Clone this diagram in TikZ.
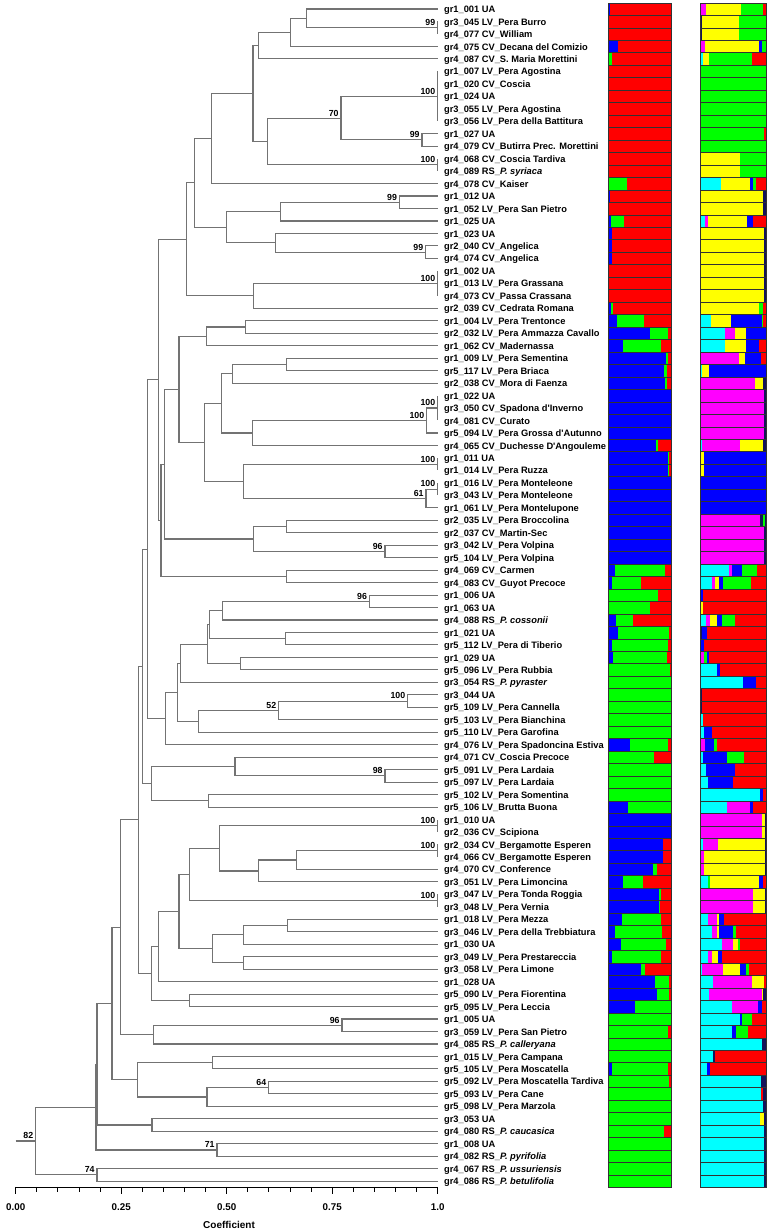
\documentclass[tikz,border=0pt]{standalone}
\usepackage{fontspec}
\setmainfont{Liberation Sans}

\definecolor{kR}{RGB}{255,0,0}
\definecolor{kG}{RGB}{0,255,0}
\definecolor{kB}{RGB}{0,0,255}
\definecolor{kY}{RGB}{255,255,0}
\definecolor{kM}{RGB}{255,0,255}
\definecolor{kC}{RGB}{0,255,255}
\definecolor{kN}{RGB}{20,20,90}
\definecolor{branchgray}{RGB}{115,115,115}

% one stacked bar: #1 left x, #2 width, #3 row, #4 list colour/end(%)
\newcommand{\strrow}[4]{%
  \xdef\segfrom{0}%
  \foreach \segcol/\segto in {#4}{%
    \fill[\segcol] ({#1+#2*\segfrom/100},{#3-0.5}) rectangle ({#1+#2*\segto/100},{#3+0.5});
    \xdef\segfrom{\segto}%
  }%
  \draw[barframe] ({#1},{#3-0.5}) rectangle ({#1+#2},{#3+0.5});
}
% both bars of one row
\newcommand{\barrow}[3]{\strrow{1.4036}{0.1493}{#1}{#2}\strrow{1.6216}{0.1571}{#1}{#3}}

\begin{document}
\begin{tikzpicture}[
        x=422pt, y=-12.47pt,
        leaf/.style={anchor=west, inner xsep=6.3pt, inner ysep=0pt, text height=0.72em, text depth=0pt, font=\fontsize{9.3}{11}\selectfont\bfseries},
        boot/.style={anchor=south east, inner sep=0pt, xshift=-2.2pt, yshift=1.8pt, font=\fontsize{8.8}{10}\selectfont\bfseries},
        axislabel/.style={inner sep=0pt, font=\fontsize{9.8}{11}\selectfont\bfseries},
        branch/.style={draw=branchgray, line width=1.1pt},
        axisline/.style={draw=black, line width=0.9pt},
        barframe/.style={draw=black!80, line width=0.4pt}
    ]
    \useasboundingbox (-0.0372,0.278) rectangle (1.7945,99.0);

    % Leaves
    \node[leaf] (l1) at (1,1) {gr1\_001 UA};
    \node[leaf] (l2) at (1,2) {gr3\_045 LV\_Pera Burro};
    \node[leaf] (l3) at (1,3) {gr4\_077 CV\_William};
    \node[leaf] (l4) at (1,4) {gr4\_075 CV\_Decana del Comizio};
    \node[leaf] (l5) at (1,5) {gr4\_087 CV\_S. Maria Morettini};
    \node[leaf] (l6) at (1,6) {gr1\_007 LV\_Pera Agostina};
    \node[leaf] (l7) at (1,7) {gr1\_020 CV\_Coscia};
    \node[leaf] (l8) at (1,8) {gr1\_024 UA};
    \node[leaf] (l9) at (1,9) {gr3\_055 LV\_Pera Agostina};
    \node[leaf] (l10) at (1,10) {gr3\_056 LV\_Pera della Battitura};
    \node[leaf] (l11) at (1,11) {gr1\_027 UA};
    \node[leaf] (l12) at (1,12) {gr4\_079 CV\_Butirra Prec. Morettini};
    \node[leaf] (l13) at (1,13) {gr4\_068 CV\_Coscia Tardiva};
    \node[leaf] (l14) at (1,14) {gr4\_089 RS\_\textit{P. syriaca}};
    \node[leaf] (l15) at (1,15) {gr4\_078 CV\_Kaiser};
    \node[leaf] (l16) at (1,16) {gr1\_012 UA};
    \node[leaf] (l17) at (1,17) {gr1\_052 LV\_Pera San Pietro};
    \node[leaf] (l18) at (1,18) {gr1\_025 UA};
    \node[leaf] (l19) at (1,19) {gr1\_023 UA};
    \node[leaf] (l20) at (1,20) {gr2\_040 CV\_Angelica};
    \node[leaf] (l21) at (1,21) {gr4\_074 CV\_Angelica};
    \node[leaf] (l22) at (1,22) {gr1\_002 UA};
    \node[leaf] (l23) at (1,23) {gr1\_013 LV\_Pera Grassana};
    \node[leaf] (l24) at (1,24) {gr4\_073 CV\_Passa Crassana};
    \node[leaf] (l25) at (1,25) {gr2\_039 CV\_Cedrata Romana};
    \node[leaf] (l26) at (1,26) {gr1\_004 LV\_Pera Trentonce};
    \node[leaf] (l27) at (1,27) {gr2\_032 LV\_Pera Ammazza Cavallo};
    \node[leaf] (l28) at (1,28) {gr1\_062 CV\_Madernassa};
    \node[leaf] (l29) at (1,29) {gr1\_009 LV\_Pera Sementina};
    \node[leaf] (l30) at (1,30) {gr5\_117 LV\_Pera Briaca};
    \node[leaf] (l31) at (1,31) {gr2\_038 CV\_Mora di Faenza};
    \node[leaf] (l32) at (1,32) {gr1\_022 UA};
    \node[leaf] (l33) at (1,33) {gr3\_050 CV\_Spadona d\textquotesingle Inverno};
    \node[leaf] (l34) at (1,34) {gr4\_081 CV\_Curato};
    \node[leaf] (l35) at (1,35) {gr5\_094 LV\_Pera Grossa d\textquotesingle Autunno};
    \node[leaf] (l36) at (1,36) {gr4\_065 CV\_Duchesse D\textquotesingle Angouleme};
    \node[leaf] (l37) at (1,37) {gr1\_011 UA};
    \node[leaf] (l38) at (1,38) {gr1\_014 LV\_Pera Ruzza};
    \node[leaf] (l39) at (1,39) {gr1\_016 LV\_Pera Monteleone};
    \node[leaf] (l40) at (1,40) {gr3\_043 LV\_Pera Monteleone};
    \node[leaf] (l41) at (1,41) {gr1\_061 LV\_Pera Montelupone};
    \node[leaf] (l42) at (1,42) {gr2\_035 LV\_Pera Broccolina};
    \node[leaf] (l43) at (1,43) {gr2\_037 CV\_Martin-Sec};
    \node[leaf] (l44) at (1,44) {gr3\_042 LV\_Pera Volpina};
    \node[leaf] (l45) at (1,45) {gr5\_104 LV\_Pera Volpina};
    \node[leaf] (l46) at (1,46) {gr4\_069 CV\_Carmen};
    \node[leaf] (l47) at (1,47) {gr4\_083 CV\_Guyot Precoce};
    \node[leaf] (l48) at (1,48) {gr1\_006 UA};
    \node[leaf] (l49) at (1,49) {gr1\_063 UA};
    \node[leaf] (l50) at (1,50) {gr4\_088 RS\_\textit{P. cossonii}};
    \node[leaf] (l51) at (1,51) {gr1\_021 UA};
    \node[leaf] (l52) at (1,52) {gr5\_112 LV\_Pera di Tiberio};
    \node[leaf] (l53) at (1,53) {gr1\_029 UA};
    \node[leaf] (l54) at (1,54) {gr5\_096 LV\_Pera Rubbia};
    \node[leaf] (l55) at (1,55) {gr3\_054 RS\_\textit{P. pyraster}};
    \node[leaf] (l56) at (1,56) {gr3\_044 UA};
    \node[leaf] (l57) at (1,57) {gr5\_109 LV\_Pera Cannella};
    \node[leaf] (l58) at (1,58) {gr5\_103 LV\_Pera Bianchina};
    \node[leaf] (l59) at (1,59) {gr5\_110 LV\_Pera Garofina};
    \node[leaf] (l60) at (1,60) {gr4\_076 LV\_Pera Spadoncina Estiva};
    \node[leaf] (l61) at (1,61) {gr4\_071 CV\_Coscia Precoce};
    \node[leaf] (l62) at (1,62) {gr5\_091 LV\_Pera Lardaia};
    \node[leaf] (l63) at (1,63) {gr5\_097 LV\_Pera Lardaia};
    \node[leaf] (l64) at (1,64) {gr5\_102 LV\_Pera Somentina};
    \node[leaf] (l65) at (1,65) {gr5\_106 LV\_Brutta Buona};
    \node[leaf] (l66) at (1,66) {gr1\_010 UA};
    \node[leaf] (l67) at (1,67) {gr2\_036 CV\_Scipiona};
    \node[leaf] (l68) at (1,68) {gr2\_034 CV\_Bergamotte Esperen};
    \node[leaf] (l69) at (1,69) {gr4\_066 CV\_Bergamotte Esperen};
    \node[leaf] (l70) at (1,70) {gr4\_070 CV\_Conference};
    \node[leaf] (l71) at (1,71) {gr3\_051 LV\_Pera Limoncina};
    \node[leaf] (l72) at (1,72) {gr3\_047 LV\_Pera Tonda Roggia};
    \node[leaf] (l73) at (1,73) {gr3\_048 LV\_Pera Vernia};
    \node[leaf] (l74) at (1,74) {gr1\_018 LV\_Pera Mezza};
    \node[leaf] (l75) at (1,75) {gr3\_046 LV\_Pera della Trebbiatura};
    \node[leaf] (l76) at (1,76) {gr1\_030 UA};
    \node[leaf] (l77) at (1,77) {gr3\_049 LV\_Pera Prestareccia};
    \node[leaf] (l78) at (1,78) {gr3\_058 LV\_Pera Limone};
    \node[leaf] (l79) at (1,79) {gr1\_028 UA};
    \node[leaf] (l80) at (1,80) {gr5\_090 LV\_Pera Fiorentina};
    \node[leaf] (l81) at (1,81) {gr5\_095 LV\_Pera Leccia};
    \node[leaf] (l82) at (1,82) {gr1\_005 UA};
    \node[leaf] (l83) at (1,83) {gr3\_059 LV\_Pera San Pietro};
    \node[leaf] (l84) at (1,84) {gr4\_085 RS\_\textit{P. calleryana}};
    \node[leaf] (l85) at (1,85) {gr1\_015 LV\_Pera Campana};
    \node[leaf] (l86) at (1,86) {gr5\_105 LV\_Pera Moscatella};
    \node[leaf] (l87) at (1,87) {gr5\_092 LV\_Pera Moscatella Tardiva};
    \node[leaf] (l88) at (1,88) {gr5\_093 LV\_Pera Cane};
    \node[leaf] (l89) at (1,89) {gr5\_098 LV\_Pera Marzola};
    \node[leaf] (l90) at (1,90) {gr3\_053 UA};
    \node[leaf] (l91) at (1,91) {gr4\_080 RS\_\textit{P. caucasica}};
    \node[leaf] (l92) at (1,92) {gr1\_008 UA};
    \node[leaf] (l93) at (1,93) {gr4\_082 RS\_\textit{P. pyrifolia}};
    \node[leaf] (l94) at (1,94) {gr4\_067 RS\_\textit{P. ussuriensis}};
    \node[leaf] (l95) at (1,95) {gr4\_086 RS\_\textit{P. betulifolia}};

    % Clusters (x = coefficient, y = mean row of the two children)
    \coordinate (c2_3) at (1,2.5);
    \coordinate (c1_3) at (0.6887,1.75);
    \coordinate (c1_4) at (0.6508,2.875);
    \coordinate (c1_5) at (0.5750,3.9375);
    \coordinate (c6_10) at (1,8);
    \coordinate (c11_12) at (0.9628,11.5);
    \coordinate (c6_12) at (0.7709,9.75);
    \coordinate (c13_14) at (1,13.5);
    \coordinate (c6_14) at (0.5971,11.625);
    \coordinate (c1_14) at (0.5623,7.78125);
    \coordinate (c1_15) at (0.4636,11.3906);
    \coordinate (c16_17) at (0.9091,16.5);
    \coordinate (c16_18) at (0.6271,17.25);
    \coordinate (c20_21) at (0.9715,20.5);
    \coordinate (c19_21) at (0.6160,19.75);
    \coordinate (c16_21) at (0.4991,18.5);
    \coordinate (c1_21) at (0.4241,14.9453);
    \coordinate (c22_24) at (1,23);
    \coordinate (c22_25) at (0.5631,24);
    \coordinate (c1_25) at (0.4043,19.4727);
    \coordinate (c26_27) at (0.5441,26.5);
    \coordinate (c26_28) at (0.4517,27.25);
    \coordinate (c29_30) at (0.6421,29.5);
    \coordinate (c29_31) at (0.5133,30.25);
    \coordinate (c32_34) at (1,33);
    \coordinate (c32_35) at (0.9739,34);
    \coordinate (c32_36) at (0.5607,35);
    \coordinate (c29_36) at (0.4881,32.625);
    \coordinate (c37_38) at (1,37.5);
    \coordinate (c39_40) at (1,39.5);
    \coordinate (c39_41) at (0.9723,40.25);
    \coordinate (c37_41) at (0.5394,38.875);
    \coordinate (c29_41) at (0.4470,35.75);
    \coordinate (c26_41) at (0.3870,31.5);
    \coordinate (c42_43) at (0.6421,42.5);
    \coordinate (c44_45) at (0.8751,44.5);
    \coordinate (c42_45) at (0.5631,43.5);
    \coordinate (c26_45) at (0.3522,37.5);
    \coordinate (c46_47) at (0.6421,46.5);
    \coordinate (c26_47) at (0.3443,42);
    \coordinate (c1_47) at (0.3388,30.7363);
    \coordinate (c48_49) at (0.8380,48.5);
    \coordinate (c48_50) at (0.4905,49.25);
    \coordinate (c51_52) at (0.6389,51.5);
    \coordinate (c48_52) at (0.4596,50.375);
    \coordinate (c53_54) at (0.5331,53.5);
    \coordinate (c48_54) at (0.4549,51.9375);
    \coordinate (c48_55) at (0.3901,53.4688);
    \coordinate (c56_57) at (0.9288,56.5);
    \coordinate (c56_58) at (0.6231,57.25);
    \coordinate (c56_59) at (0.4336,58.125);
    \coordinate (c48_59) at (0.3830,55.7969);
    \coordinate (c48_60) at (0.3554,57.8984);
    \coordinate (c1_60) at (0.3127,44.3174);
    \coordinate (c62_63) at (0.8751,62.5);
    \coordinate (c61_63) at (0.5197,61.75);
    \coordinate (c64_65) at (0.4565,64.5);
    \coordinate (c61_65) at (0.3214,63.125);
    \coordinate (c1_65) at (0.3009,53.7212);
    \coordinate (c66_67) at (1,66.5);
    \coordinate (c68_69) at (1,68.5);
    \coordinate (c68_70) at (0.6650,69.25);
    \coordinate (c68_71) at (0.5757,70.125);
    \coordinate (c66_71) at (0.4833,68.3125);
    \coordinate (c72_73) at (1,72.5);
    \coordinate (c66_73) at (0.4115,70.4063);
    \coordinate (c74_75) at (0.6437,74.5);
    \coordinate (c74_76) at (0.5394,75.25);
    \coordinate (c77_78) at (0.5394,77.5);
    \coordinate (c74_78) at (0.4668,76.375);
    \coordinate (c66_78) at (0.3870,73.3906);
    \coordinate (c66_79) at (0.3388,76.1953);
    \coordinate (c80_81) at (0.4122,80.5);
    \coordinate (c66_81) at (0.3214,78.3477);
    \coordinate (c1_81) at (0.2902,66.0344);
    \coordinate (c82_83) at (0.7732,82.5);
    \coordinate (c82_84) at (0.3269,83.25);
    \coordinate (c1_84) at (0.2479,74.6422);
    \coordinate (c85_86) at (0.4660,85.5);
    \coordinate (c87_88) at (0.5995,87.5);
    \coordinate (c87_89) at (0.4533,88.25);
    \coordinate (c85_89) at (0.2890,86.875);
    \coordinate (c1_89) at (0.2282,80.7586);
    \coordinate (c90_91) at (0.3230,90.5);
    \coordinate (c1_91) at (0.1927,85.6293);
    \coordinate (c92_93) at (0.4770,92.5);
    \coordinate (c1_93) at (0.1903,89.0647);
    \coordinate (c94_95) at (0.1927,94.5);
    \coordinate (c1_95) at (0.0473,91.7823);
    \coordinate (c0) at (0,91.7823);

    % Branches
    \draw[branch] (c2_3) |- (l2) (c2_3) |- (l3);
    \draw[branch] (c1_3) |- (l1) (c1_3) |- (c2_3);
    \draw[branch] (c1_4) |- (c1_3) (c1_4) |- (l4);
    \draw[branch] (c1_5) |- (c1_4) (c1_5) |- (l5);
    \draw[branch] (c6_10) |- (l6) (c6_10) |- (l7) (c6_10) |- (l8) (c6_10) |- (l9) (c6_10) |- (l10);
    \draw[branch] (c11_12) |- (l11) (c11_12) |- (l12);
    \draw[branch] (c6_12) |- (c6_10) (c6_12) |- (c11_12);
    \draw[branch] (c13_14) |- (l13) (c13_14) |- (l14);
    \draw[branch] (c6_14) |- (c6_12) (c6_14) |- (c13_14);
    \draw[branch] (c1_14) |- (c1_5) (c1_14) |- (c6_14);
    \draw[branch] (c1_15) |- (c1_14) (c1_15) |- (l15);
    \draw[branch] (c16_17) |- (l16) (c16_17) |- (l17);
    \draw[branch] (c16_18) |- (c16_17) (c16_18) |- (l18);
    \draw[branch] (c20_21) |- (l20) (c20_21) |- (l21);
    \draw[branch] (c19_21) |- (l19) (c19_21) |- (c20_21);
    \draw[branch] (c16_21) |- (c16_18) (c16_21) |- (c19_21);
    \draw[branch] (c1_21) |- (c1_15) (c1_21) |- (c16_21);
    \draw[branch] (c22_24) |- (l22) (c22_24) |- (l23) (c22_24) |- (l24);
    \draw[branch] (c22_25) |- (c22_24) (c22_25) |- (l25);
    \draw[branch] (c1_25) |- (c1_21) (c1_25) |- (c22_25);
    \draw[branch] (c26_27) |- (l26) (c26_27) |- (l27);
    \draw[branch] (c26_28) |- (c26_27) (c26_28) |- (l28);
    \draw[branch] (c29_30) |- (l29) (c29_30) |- (l30);
    \draw[branch] (c29_31) |- (c29_30) (c29_31) |- (l31);
    \draw[branch] (c32_34) |- (l32) (c32_34) |- (l33) (c32_34) |- (l34);
    \draw[branch] (c32_35) |- (c32_34) (c32_35) |- (l35);
    \draw[branch] (c32_36) |- (c32_35) (c32_36) |- (l36);
    \draw[branch] (c29_36) |- (c29_31) (c29_36) |- (c32_36);
    \draw[branch] (c37_38) |- (l37) (c37_38) |- (l38);
    \draw[branch] (c39_40) |- (l39) (c39_40) |- (l40);
    \draw[branch] (c39_41) |- (c39_40) (c39_41) |- (l41);
    \draw[branch] (c37_41) |- (c37_38) (c37_41) |- (c39_41);
    \draw[branch] (c29_41) |- (c29_36) (c29_41) |- (c37_41);
    \draw[branch] (c26_41) |- (c26_28) (c26_41) |- (c29_41);
    \draw[branch] (c42_43) |- (l42) (c42_43) |- (l43);
    \draw[branch] (c44_45) |- (l44) (c44_45) |- (l45);
    \draw[branch] (c42_45) |- (c42_43) (c42_45) |- (c44_45);
    \draw[branch] (c26_45) |- (c26_41) (c26_45) |- (c42_45);
    \draw[branch] (c46_47) |- (l46) (c46_47) |- (l47);
    \draw[branch] (c26_47) |- (c26_45) (c26_47) |- (c46_47);
    \draw[branch] (c1_47) |- (c1_25) (c1_47) |- (c26_47);
    \draw[branch] (c48_49) |- (l48) (c48_49) |- (l49);
    \draw[branch] (c48_50) |- (c48_49) (c48_50) |- (l50);
    \draw[branch] (c51_52) |- (l51) (c51_52) |- (l52);
    \draw[branch] (c48_52) |- (c48_50) (c48_52) |- (c51_52);
    \draw[branch] (c53_54) |- (l53) (c53_54) |- (l54);
    \draw[branch] (c48_54) |- (c48_52) (c48_54) |- (c53_54);
    \draw[branch] (c48_55) |- (c48_54) (c48_55) |- (l55);
    \draw[branch] (c56_57) |- (l56) (c56_57) |- (l57);
    \draw[branch] (c56_58) |- (c56_57) (c56_58) |- (l58);
    \draw[branch] (c56_59) |- (c56_58) (c56_59) |- (l59);
    \draw[branch] (c48_59) |- (c48_55) (c48_59) |- (c56_59);
    \draw[branch] (c48_60) |- (c48_59) (c48_60) |- (l60);
    \draw[branch] (c1_60) |- (c1_47) (c1_60) |- (c48_60);
    \draw[branch] (c62_63) |- (l62) (c62_63) |- (l63);
    \draw[branch] (c61_63) |- (l61) (c61_63) |- (c62_63);
    \draw[branch] (c64_65) |- (l64) (c64_65) |- (l65);
    \draw[branch] (c61_65) |- (c61_63) (c61_65) |- (c64_65);
    \draw[branch] (c1_65) |- (c1_60) (c1_65) |- (c61_65);
    \draw[branch] (c66_67) |- (l66) (c66_67) |- (l67);
    \draw[branch] (c68_69) |- (l68) (c68_69) |- (l69);
    \draw[branch] (c68_70) |- (c68_69) (c68_70) |- (l70);
    \draw[branch] (c68_71) |- (c68_70) (c68_71) |- (l71);
    \draw[branch] (c66_71) |- (c66_67) (c66_71) |- (c68_71);
    \draw[branch] (c72_73) |- (l72) (c72_73) |- (l73);
    \draw[branch] (c66_73) |- (c66_71) (c66_73) |- (c72_73);
    \draw[branch] (c74_75) |- (l74) (c74_75) |- (l75);
    \draw[branch] (c74_76) |- (c74_75) (c74_76) |- (l76);
    \draw[branch] (c77_78) |- (l77) (c77_78) |- (l78);
    \draw[branch] (c74_78) |- (c74_76) (c74_78) |- (c77_78);
    \draw[branch] (c66_78) |- (c66_73) (c66_78) |- (c74_78);
    \draw[branch] (c66_79) |- (c66_78) (c66_79) |- (l79);
    \draw[branch] (c80_81) |- (l80) (c80_81) |- (l81);
    \draw[branch] (c66_81) |- (c66_79) (c66_81) |- (c80_81);
    \draw[branch] (c1_81) |- (c1_65) (c1_81) |- (c66_81);
    \draw[branch] (c82_83) |- (l82) (c82_83) |- (l83);
    \draw[branch] (c82_84) |- (c82_83) (c82_84) |- (l84);
    \draw[branch] (c1_84) |- (c1_81) (c1_84) |- (c82_84);
    \draw[branch] (c85_86) |- (l85) (c85_86) |- (l86);
    \draw[branch] (c87_88) |- (l87) (c87_88) |- (l88);
    \draw[branch] (c87_89) |- (c87_88) (c87_89) |- (l89);
    \draw[branch] (c85_89) |- (c85_86) (c85_89) |- (c87_89);
    \draw[branch] (c1_89) |- (c1_84) (c1_89) |- (c85_89);
    \draw[branch] (c90_91) |- (l90) (c90_91) |- (l91);
    \draw[branch] (c1_91) |- (c1_89) (c1_91) |- (c90_91);
    \draw[branch] (c92_93) |- (l92) (c92_93) |- (l93);
    \draw[branch] (c1_93) |- (c1_91) (c1_93) |- (c92_93);
    \draw[branch] (c94_95) |- (l94) (c94_95) |- (l95);
    \draw[branch] (c1_95) |- (c1_93) (c1_95) |- (c94_95);
    \draw[branch] (c0) -- (c1_95);

    % Bootstrap values
    \node[boot] (b2_3) at (c2_3) {99};
    \node[boot] (b6_10) at (c6_10) {100};
    \node[boot] (b6_12) at (c6_12) {70};
    \node[boot] (b11_12) at (c11_12) {99};
    \node[boot] (b13_14) at (c13_14) {100};
    \node[boot] (b16_17) at (c16_17) {99};
    \node[boot] (b20_21) at (c20_21) {99};
    \node[boot] (b22_24) at (c22_24) {100};
    \node[boot] (b32_34) at (c32_34) {100};
    \node[boot] (b32_35) at (c32_35) {100};
    \node[boot] (b37_38) at (c37_38) {100};
    \node[boot] (b39_40) at (c39_40) {100};
    \node[boot] (b39_41) at (c39_41) {61};
    \node[boot] (b44_45) at (c44_45) {96};
    \node[boot] (b48_49) at (c48_49) {96};
    \node[boot] (b56_57) at (c56_57) {100};
    \node[boot] (b56_58) at (c56_58) {52};
    \node[boot] (b62_63) at (c62_63) {98};
    \node[boot] (b66_67) at (c66_67) {100};
    \node[boot] (b68_69) at (c68_69) {100};
    \node[boot] (b72_73) at (c72_73) {100};
    \node[boot] (b82_83) at (c82_83) {96};
    \node[boot] (b87_88) at (c87_88) {64};
    \node[boot] (b92_93) at (c92_93) {71};
    \node[boot] (b94_95) at (c94_95) {74};
    \node[boot] (b1_95) at (c1_95) {82};

    % Coefficient axis
    \draw[axisline] (0,95.47) -- (1,95.47);
    \foreach \k in {0,...,20}{
        \pgfmathsetmacro{\ticklen}{ifthenelse(mod(\k,5)==0,0.6,0.44)}
        \draw[axisline] ({\k/20},95.47) -- ({\k/20},{95.47+\ticklen});
    }
    \node[axislabel] (t0) at (0,97.07) {0.00};
    \node[axislabel] (t1) at (0.25,97.07) {0.25};
    \node[axislabel] (t2) at (0.5,97.07) {0.50};
    \node[axislabel] (t3) at (0.75,97.07) {0.75};
    \node[axislabel] (t4) at (1,97.07) {1.0};
    \node[axislabel, font=\fontsize{10}{12}\selectfont\bfseries] (coef) at (0.5055,98.52) {Coefficient};

    % Structure bars (left: K=3, right: K=6)
    \barrow{1}{kB/3,kR/100}{kM/8.5,kY/62,kG/95.5,kR/100}
    \barrow{2}{kB/1.5,kR/100}{kN/2.5,kY/59,kG/100}
    \barrow{3}{kR/100}{kN/2.5,kY/59,kG/100}
    \barrow{4}{kB/16,kR/100}{kM/7.5,kY/89.5,kB/93,kG/100}
    \barrow{5}{kG/7,kR/100}{kC/4,kY/13.5,kG/79,kR/100}
    \barrow{6}{kR/100}{kG/100}
    \barrow{7}{kR/100}{kG/100}
    \barrow{8}{kR/100}{kG/100}
    \barrow{9}{kR/100}{kG/100}
    \barrow{10}{kR/100}{kG/100}
    \barrow{11}{kR/100}{kN/1.5,kG/97,kR/100}
    \barrow{12}{kR/100}{kG/100}
    \barrow{13}{kR/100}{kY/60,kG/100}
    \barrow{14}{kR/100}{kY/60,kG/100}
    \barrow{15}{kB/2,kG/30,kR/100}{kC/31,kY/76,kB/80,kG/85,kR/100}
    \barrow{16}{kB/3,kR/100}{kY/95,kN/100}
    \barrow{17}{kB/2,kR/100}{kY/95,kN/100}
    \barrow{18}{kB/4,kG/25,kR/100}{kC/8,kM/12.5,kY/71,kB/79.5,kR/100}
    \barrow{19}{kB/6,kR/100}{kY/97,kN/100}
    \barrow{20}{kB/6,kR/100}{kY/97,kN/100}
    \barrow{21}{kB/6,kR/100}{kY/97,kN/100}
    \barrow{22}{kR/100}{kY/97,kN/100}
    \barrow{23}{kR/100}{kY/97,kN/100}
    \barrow{24}{kR/100}{kY/97,kN/100}
    \barrow{25}{kB/4,kG/8,kR/100}{kY/89.5,kG/95.5,kR/100}
    \barrow{26}{kB/14,kG/57,kR/100}{kC/17,kY/47,kB/93,kG/95.5,kR/100}
    \barrow{27}{kB/66,kG/95,kR/100}{kC/37,kM/53,kY/70,kB/100}
    \barrow{28}{kB/24,kG/84,kR/100}{kC/37,kY/70,kB/89.5,kR/100}
    \barrow{29}{kB/91.5,kG/95,kR/100}{kM/59,kY/68,kB/92,kR/100}
    \barrow{30}{kB/89.5,kG/94,kR/100}{kC/3,kY/13.5,kB/100}
    \barrow{31}{kB/90.5,kG/93,kR/100}{kM/83.5,kY/94.5,kN/100}
    \barrow{32}{kB/100}{kM/97,kN/100}
    \barrow{33}{kB/100}{kM/97,kN/100}
    \barrow{34}{kB/100}{kM/97,kN/100}
    \barrow{35}{kB/100}{kM/97,kN/100}
    \barrow{36}{kB/76,kG/80,kR/100}{kC/3.5,kM/61,kY/95.5,kN/100}
    \barrow{37}{kB/95,kG/97,kR/100}{kY/6,kB/100}
    \barrow{38}{kB/95,kG/97,kR/100}{kY/6,kB/100}
    \barrow{39}{kB/100}{kB/100}
    \barrow{40}{kB/100}{kB/100}
    \barrow{41}{kB/100}{kB/100}
    \barrow{42}{kB/100}{kM/90.5,kN/95,kG/97.5,kN/100}
    \barrow{43}{kB/100}{kM/97,kN/100}
    \barrow{44}{kB/100}{kM/97,kN/100}
    \barrow{45}{kB/100}{kM/97,kN/100}
    \barrow{46}{kB/11,kG/90.5,kR/100}{kC/44,kM/49,kB/64,kG/85.5,kR/100}
    \barrow{47}{kB/6,kG/53,kR/100}{kC/18,kM/22.5,kY/29,kB/34,kG/76.5,kR/100}
    \barrow{48}{kB/2,kG/80,kR/100}{kB/5,kR/100}
    \barrow{49}{kB/2,kG/67,kR/100}{kY/5,kR/100}
    \barrow{50}{kB/13,kG/40,kR/100}{kC/9,kM/15,kY/25,kB/32.5,kG/53,kR/100}
    \barrow{51}{kB/16,kG/97,kR/100}{kN/2.5,kB/10,kR/100}
    \barrow{52}{kB/7,kG/96,kR/100}{kB/6,kR/100}
    \barrow{53}{kB/8.5,kG/93,kR/100}{kM/6,kG/10,kB/14,kR/100}
    \barrow{54}{kG/98.5,kR/100}{kC/26,kB/30,kR/100}
    \barrow{55}{kG/100}{kC/65,kB/84.5,kR/100}
    \barrow{56}{kG/100}{kN/2.5,kR/100}
    \barrow{57}{kG/100}{kN/2.5,kR/100}
    \barrow{58}{kG/100}{kC/4,kR/100}
    \barrow{59}{kG/100}{kC/6,kB/17.5,kR/100}
    \barrow{60}{kB/35,kG/95,kR/100}{kM/7.5,kB/21,kG/25,kR/100}
    \barrow{61}{kG/73,kR/100}{kC/5,kB/41,kG/66,kR/100}
    \barrow{62}{kG/100}{kC/9,kB/53,kR/100}
    \barrow{63}{kG/100}{kC/12.5,kB/50,kR/100}
    \barrow{64}{kG/100}{kC/90.5,kB/95,kR/100}
    \barrow{65}{kB/31,kG/100}{kC/41,kM/75.5,kB/80.5,kR/100}
    \barrow{66}{kB/100}{kM/93,kY/97.5,kN/100}
    \barrow{67}{kB/100}{kM/93,kY/97.5,kN/100}
    \barrow{68}{kB/88,kR/100}{kC/4,kM/27.5,kY/97.5,kN/100}
    \barrow{69}{kB/87,kR/100}{kM/6,kY/97.5,kN/100}
    \barrow{70}{kB/71,kG/78,kR/100}{kM/6,kY/97.5,kN/100}
    \barrow{71}{kB/24,kG/56,kR/100}{kC/12.5,kG/15,kY/89.5,kB/95.5,kR/100}
    \barrow{72}{kB/81.5,kG/84,kR/100}{kM/79.5,kY/97.5,kN/100}
    \barrow{73}{kB/81.5,kG/83,kR/100}{kM/79.5,kY/97.5,kN/100}
    \barrow{74}{kB/22,kG/84,kR/100}{kC/12.5,kM/26,kY/29,kB/36,kR/100}
    \barrow{75}{kB/11,kG/85,kR/100}{kC/17.5,kM/25,kY/29,kB/50,kG/55,kR/100}
    \barrow{76}{kB/20,kG/92,kR/100}{kC/33.5,kM/50,kY/58,kG/61,kR/100}
    \barrow{77}{kB/7,kG/84,kR/100}{kC/11.5,kM/17.5,kY/27.5,kB/32.5,kR/100}
    \barrow{78}{kB/53,kG/59,kR/100}{kC/2.5,kM/35,kY/60,kB/70,kG/74.5,kR/100}
    \barrow{79}{kB/75,kG/97,kR/100}{kC/20,kM/78,kY/96.5,kR/100}
    \barrow{80}{kB/77,kG/97,kR/100}{kC/14,kM/93,kY/95.5,kN/100}
    \barrow{81}{kB/43,kG/100}{kC/48.5,kM/88,kB/94,kR/100}
    \barrow{82}{kG/100}{kC/61,kB/64,kG/78,kR/100}
    \barrow{83}{kG/95,kR/100}{kC/48.5,kB/54,kG/73,kR/100}
    \barrow{84}{kG/100}{kC/94,kN/100}
    \barrow{85}{kG/100}{kC/20,kN/22.5,kR/100}
    \barrow{86}{kB/6,kG/96,kR/100}{kC/10,kB/15,kR/100}
    \barrow{87}{kG/97,kR/100}{kC/92.5,kN/100}
    \barrow{88}{kG/100}{kC/92.5,kR/95,kN/100}
    \barrow{89}{kG/100}{kC/95,kN/100}
    \barrow{90}{kG/100}{kC/90.5,kY/97,kN/100}
    \barrow{91}{kG/89,kR/100}{kC/97,kN/100}
    \barrow{92}{kG/100}{kC/97,kN/100}
    \barrow{93}{kG/100}{kC/97,kN/100}
    \barrow{94}{kG/100}{kC/97,kN/100}
    \barrow{95}{kG/100}{kC/97,kN/100}

\end{tikzpicture}
\end{document}
